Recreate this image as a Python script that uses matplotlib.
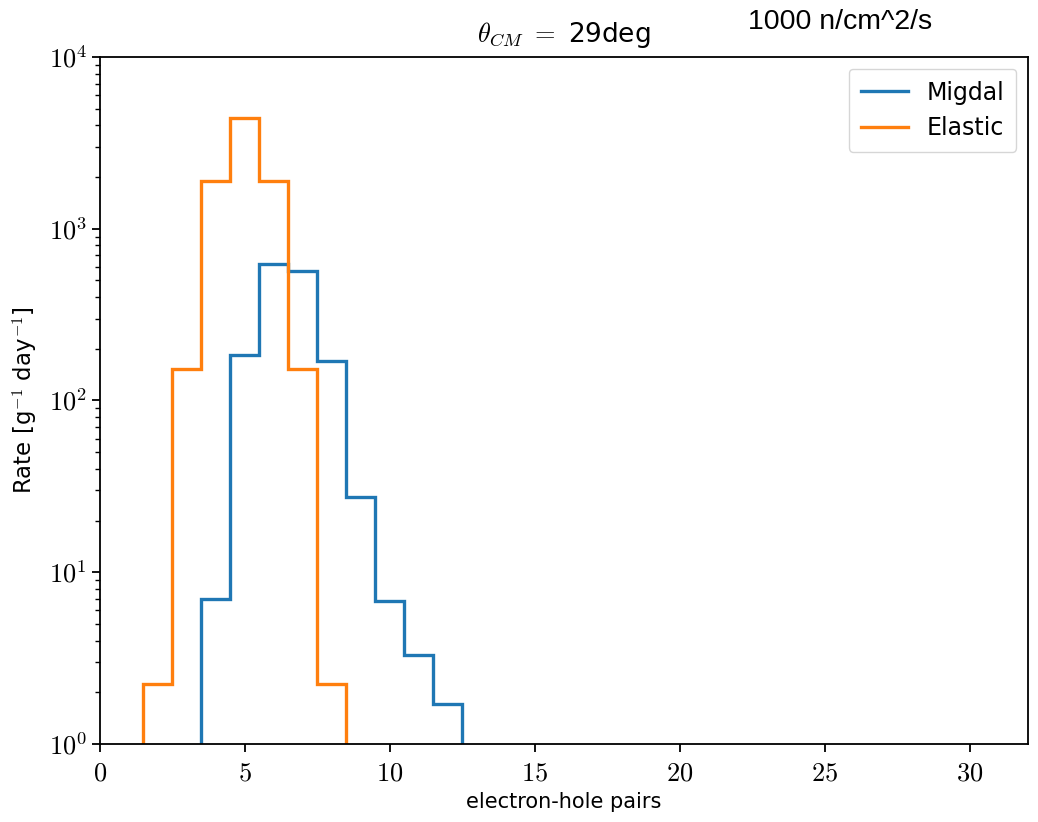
import matplotlib
matplotlib.use("Agg")
import matplotlib.pyplot as plt
import numpy as np
from matplotlib.ticker import FuncFormatter, LogLocator

plt.rcParams['mathtext.fontset'] = 'cm'
plt.rcParams['font.family'] = ['DejaVu Sans']

# Data (bin centers = electron-hole pairs)
elastic_pairs = [2, 3, 4, 5, 6, 7, 8]
elastic_rate = [2.25, 152, 1900, 4400, 1900, 152, 2.25]
migdal_pairs = [4, 5, 6, 7, 8, 9, 10, 11, 12]
migdal_rate = [7.0, 185, 620, 570, 170, 27.5, 6.8, 3.3, 1.7]

fig = plt.figure(figsize=(10.38, 8.22), dpi=100)
ax = fig.add_axes([0.0963, 0.0949, 0.9904 - 0.0963, 0.9307 - 0.0949])

def step_hist(ax, centers, vals, color, label):
    edges = np.concatenate([[centers[0] - 0.5], np.array(centers) + 0.5])
    ax.stairs(vals, edges, baseline=1e-3, color=color, lw=2.4, label=label)

step_hist(ax, migdal_pairs, migdal_rate, '#1f77b4', 'Migdal')
step_hist(ax, elastic_pairs, elastic_rate, '#ff7f0e', 'Elastic')

ax.set_yscale('log')
ax.set_xlim(0, 32)
ax.set_ylim(1, 1e4)
ax.set_xticks([0, 5, 10, 15, 20, 25, 30])
ax.xaxis.set_major_formatter(FuncFormatter(lambda v, p: r'$%d$' % v))
ax.yaxis.set_major_locator(LogLocator(base=10, numticks=10))
ax.yaxis.set_major_formatter(FuncFormatter(lambda v, p: r'$10^{%d}$' % round(np.log10(v))))
ax.tick_params(axis='both', which='major', labelsize=19, length=6, width=1.3)
ax.tick_params(axis='x', which='major', pad=6)
ax.tick_params(axis='y', which='minor', length=3.5, width=1.0)
for s in ax.spines.values():
    s.set_linewidth(1.3)

ax.set_xlabel('electron-hole pairs', fontsize=15, labelpad=4)
ax.set_ylabel(r'Rate [g$^{-1}$ day$^{-1}$]', fontsize=16.5, labelpad=6)
ax.set_title(r'$\theta_{CM}\ =$ 29deg', fontsize=19, pad=11)
fig.text(0.809, 0.973, '1000 n/cm^2/s', fontsize=20.5, family='Liberation Sans',
         ha='center', va='center')

leg = ax.legend(loc='upper right', fontsize=17, handlelength=2.0, framealpha=0.8,
                borderpad=0.5, labelspacing=0.5)

fig.savefig('out.png', dpi=100)
